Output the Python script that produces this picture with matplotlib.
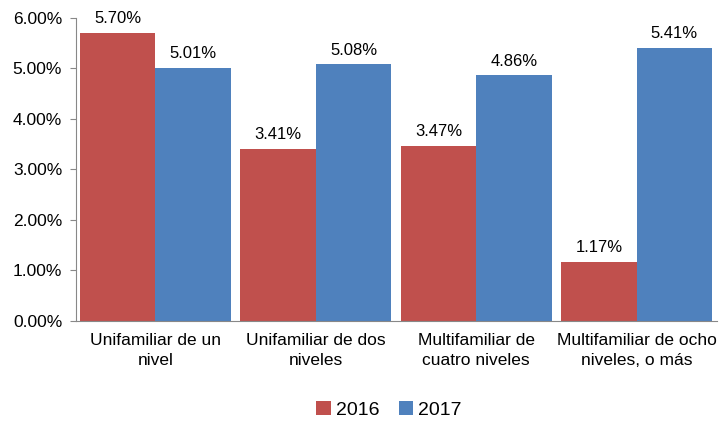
import matplotlib.pyplot as plt
import numpy as np
from matplotlib.ticker import FuncFormatter

# data
categories = ['Unifamiliar de un\nnivel', 'Unifamiliar de dos\nniveles',
              'Multifamiliar de\ncuatro niveles', 'Multifamiliar de ocho\nniveles, o más']
v2016 = [5.70, 3.41, 3.47, 1.17]
v2017 = [5.01, 5.08, 4.86, 5.41]

plt.rcParams['font.family'] = ['Liberation Sans', 'DejaVu Sans']

fig = plt.figure(figsize=(7.2, 4.24), dpi=100)
ax = fig.add_axes([0.1056, 0.243, 0.89, 0.715])

x = np.arange(len(categories))
w = 0.47
b1 = ax.bar(x - w/2, v2016, w, color='#C0504D', label='2016')
b2 = ax.bar(x + w/2, v2017, w, color='#4F81BD', label='2017')

# value labels
for bars, vals in ((b1, v2016), (b2, v2017)):
    for b, v in zip(bars, vals):
        ax.text(b.get_x() + b.get_width()/2, v + 0.13, f'{v:.2f}%',
                ha='center', va='bottom', fontsize=12)

ax.set_ylim(0, 6)
ax.set_xlim(-0.495, 3.50)
ax.set_yticks(np.arange(0, 7, 1))
ax.yaxis.set_major_formatter(FuncFormatter(lambda v, p: f'{v:.2f}%'))
ax.set_xticks(x)
ax.set_xticklabels(categories, fontsize=12.5, linespacing=1.35)
ax.tick_params(axis='x', length=0, pad=9)
ax.tick_params(axis='y', labelsize=12.5, length=4, color='#888888', pad=6)

for s in ['top', 'right']:
    ax.spines[s].set_visible(False)
ax.spines['left'].set_color('#888888')
ax.spines['bottom'].set_color('#888888')

fig.legend(handles=[b1, b2], loc='center', bbox_to_anchor=(0.54, 0.033), ncol=2,
           frameon=False, fontsize=14, handlelength=0.75, handleheight=0.75,
           handletextpad=0.25, columnspacing=1.0)

fig.savefig('out.png', dpi=100)
